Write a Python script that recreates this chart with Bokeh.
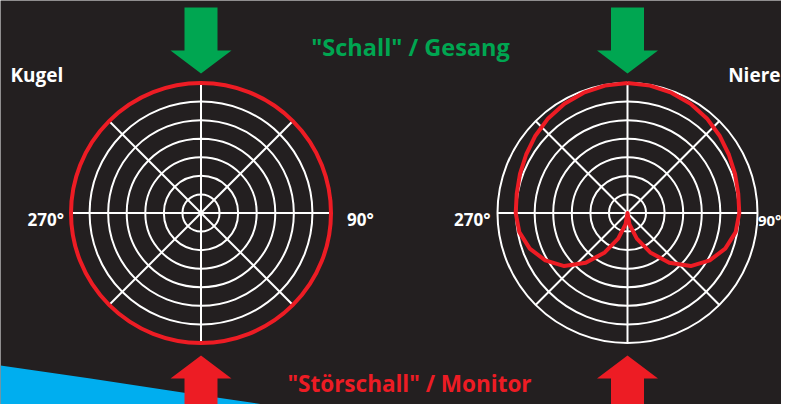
import math
from bokeh.plotting import figure
from bokeh.models import Range1d
from bokeh.core.properties import value
from bokeh.embed import file_html
from bokeh.resources import INLINE

# ---------------- data ----------------
ring_levels = [1, 2, 3, 4, 5, 6, 7]            # concentric grid rings (of 7)
spoke_angles = [0, 45, 90, 135, 180, 225, 270, 315]  # degrees, clockwise from top

# omnidirectional ("Kugel") pattern: relative level per angle
omni_angles = [0, 30, 60, 90, 120, 150, 180, 210, 240, 270, 300, 330, 360]
omni_level = [1.0, 1.0, 1.0, 1.0, 1.0, 1.0, 1.0, 1.0, 1.0, 1.0, 1.0, 1.0, 1.0]

# cardioid ("Niere") pattern: relative level per angle
card_angles = [0, 10, 20, 30, 40, 50, 60, 70, 80, 90, 100, 110, 120, 130, 140, 150, 160, 170,
               180, 190, 200, 210, 220, 230, 240, 250, 260, 270, 280, 290, 300, 310, 320, 330,
               340, 350, 360]
card_level = [1.00, 0.995, 0.985, 0.97, 0.95, 0.925, 0.90, 0.88, 0.865, 0.86, 0.845, 0.80,
              0.73, 0.635, 0.50, 0.35, 0.21, 0.09,
              0.00,
              0.09, 0.21, 0.35, 0.50, 0.635, 0.73, 0.80, 0.845, 0.86, 0.865, 0.88, 0.90, 0.925,
              0.95, 0.97, 0.985, 0.995, 1.00]

titles = ["Kugel", "Niere"]
angle_labels = ["270°", "90°"]
top_label = '"Schall" / Gesang'
bottom_label = '"Störschall" / Monitor'

# ---------------- layout constants ----------------
BG = "#231f20"
RED = "#ed1c24"
GREEN = "#00a651"
BLUE = "#00aeef"
R = 130.0
centers = [(200.5, 212.5), (627.0, 212.5)]

p = figure(width=781, height=404, x_range=Range1d(0, 781), y_range=Range1d(404, 0),
           output_backend="svg", toolbar_location=None, min_border=0,
           x_axis_type=None, y_axis_type=None,
           background_fill_color=BG, border_fill_color=BG, outline_line_color=None)
p.grid.visible = False

# blue swoosh bottom-left
p.patch([0, 90, 182, 270, 350, 360, 360, 0], [365, 378, 392, 405, 420, 422, 430, 430],
        fill_color=BLUE, line_color=None)


def arrow(cx, y_base, y_tip, y_end):
    # shaft from y_end to y_base, head from y_base to y_tip
    sw, hw = 16.5, 30.5
    xs = [cx - sw, cx + sw, cx + sw, cx + hw, cx, cx - hw, cx - sw]
    ys = [y_end, y_end, y_base, y_base, y_tip, y_base, y_base]
    return xs, ys


for (cx, cy) in centers:
    xs, ys = arrow(cx, 50, 73, 7)
    p.patch(xs, ys, fill_color=GREEN, line_color=None)
    xs, ys = arrow(cx, 378, 355, 430)
    p.patch(xs, ys, fill_color=RED, line_color=None)

# polar grids
for (cx, cy) in centers:
    n = len(ring_levels)
    p.circle(x=[cx] * n, y=[cy] * n, radius=[R * k / max(ring_levels) for k in ring_levels],
             fill_color=None, line_color="white", line_width=2)
    x1 = [cx + R * math.sin(math.radians(a)) for a in spoke_angles]
    y1 = [cy - R * math.cos(math.radians(a)) for a in spoke_angles]
    p.segment(x0=[cx] * len(spoke_angles), y0=[cy] * len(spoke_angles), x1=x1, y1=y1,
              line_color="white", line_width=2)


def polar_line(cx, cy, angles, levels):
    xs = [cx + R * l * math.sin(math.radians(a)) for a, l in zip(angles, levels)]
    ys = [cy - R * l * math.cos(math.radians(a)) for a, l in zip(angles, levels)]
    return xs, ys


# omni: full circle pattern
cx, cy = centers[0]
p.circle(x=[cx], y=[cy], radius=[R * omni_level[0]], fill_color=None,
         line_color=RED, line_width=4)

# cardioid
cx, cy = centers[1]
xs, ys = polar_line(cx, cy, card_angles, card_level)
p.line(xs, ys, line_color=RED, line_width=4, line_join="round")

FONT = value("Open Sans")

# titles
p.text(x=[10], y=[74], text=[titles[0]], text_color="white", text_font=FONT,
       text_font_style="bold", text_font_size="19px", text_baseline="alphabetic",
       text_align="left")
p.text(x=[780], y=[74], text=[titles[1]], text_color="white", text_font=FONT,
       text_font_style="bold", text_font_size="19px", text_baseline="alphabetic",
       text_align="right")

# angle labels
cx, cy = centers[0]
p.text(x=[cx - 137], y=[219], text=[angle_labels[0]], text_color="white", text_font=FONT,
       text_font_style="bold", text_font_size="17px", text_baseline="alphabetic",
       text_align="right")
p.text(x=[cx + 146], y=[219], text=[angle_labels[1]], text_color="white", text_font=FONT,
       text_font_style="bold", text_font_size="17px", text_baseline="alphabetic",
       text_align="left")
cx, cy = centers[1]
p.text(x=[cx - 137], y=[219], text=[angle_labels[0]], text_color="white", text_font=FONT,
       text_font_style="bold", text_font_size="17px", text_baseline="alphabetic",
       text_align="right")
p.text(x=[781], y=[219], text=[angle_labels[1]], text_color="white", text_font=FONT,
       text_font_style="bold", text_font_size="15px", text_baseline="alphabetic",
       text_align="right")

p.text(x=[410], y=[46], text=[top_label], text_color=GREEN, text_font=FONT,
       text_font_style="bold", text_font_size="23.5px", text_baseline="alphabetic",
       text_align="center")
p.text(x=[409], y=[383], text=[bottom_label], text_color=RED, text_font=FONT,
       text_font_style="bold", text_font_size="22.5px", text_baseline="middle",
       text_align="center")

open("out.html", "w").write(file_html(p, INLINE))
